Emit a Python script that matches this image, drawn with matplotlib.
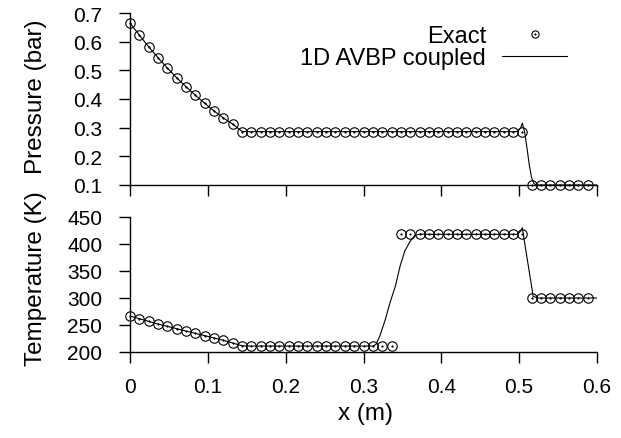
import matplotlib
matplotlib.use("Agg")
import matplotlib.pyplot as plt
from matplotlib.lines import Line2D
from matplotlib.legend_handler import HandlerTuple

plt.rcParams['font.family'] = ['Liberation Sans', 'DejaVu Sans']

# Exact solution (markers)
x_exact = [0.012 * i for i in range(50)]
p_exact = [0.665, 0.623, 0.582, 0.544, 0.508, 0.474, 0.443, 0.413, 0.385, 0.358,
           0.334, 0.312] + [0.286] * 31 + [0.1] * 7
T_exact = [266.5, 261.7, 256.7, 251.7, 247.5, 243.2, 238.8, 234.5, 230.3, 225.9,
           221.6, 216.6] + [211.0] * 17 + [418.0] * 14 + [300.0] * 7

# 1D AVBP coupled (line)
x_sim_p = [0.0, 0.012, 0.024, 0.036, 0.048, 0.060, 0.072, 0.084, 0.096, 0.108,
           0.120, 0.132, 0.144, 0.150, 0.498, 0.502, 0.504, 0.507, 0.510, 0.513,
           0.516, 0.519, 0.522, 0.6]
p_sim = [0.665, 0.623, 0.582, 0.544, 0.508, 0.474, 0.443, 0.413, 0.385, 0.358,
         0.334, 0.312, 0.287, 0.286, 0.286, 0.300, 0.316, 0.285, 0.230, 0.170,
         0.125, 0.105, 0.100, 0.100]
x_sim_T = [0.0, 0.012, 0.024, 0.036, 0.048, 0.060, 0.072, 0.084, 0.096, 0.108,
           0.120, 0.132, 0.144, 0.150, 0.312, 0.316, 0.321, 0.328, 0.334, 0.341,
           0.347, 0.353, 0.360, 0.366, 0.373, 0.380, 0.498, 0.502, 0.504, 0.518,
           0.524, 0.6]
T_sim = [266.5, 261.7, 256.7, 251.7, 247.5, 243.2, 238.8, 234.5, 230.3, 225.9,
         221.6, 216.6, 211.5, 211.0, 211.0, 214.0, 229.6, 260.0, 291.0, 322.0,
         359.0, 387.0, 405.0, 416.0, 418.5, 418.0, 418.0, 424.0, 430.0, 303.0,
         300.0, 300.0]

x_ticks = [0, 0.1, 0.2, 0.3, 0.4, 0.5, 0.6]
x_ticklabels = ['0', '0.1', '0.2', '0.3', '0.4', '0.5', '0.6']
p_ticks = [0.1, 0.2, 0.3, 0.4, 0.5, 0.6, 0.7]
T_ticks = [200, 250, 300, 350, 400, 450]

W, H = 621, 439
fig = plt.figure(figsize=(W / 100, H / 100), dpi=100)
ax1 = fig.add_axes([130 / W, 1 - 186 / H, (597 - 130) / W, (186 - 14) / H])
ax2 = fig.add_axes([130 / W, 1 - 353 / H, (597 - 130) / W, (353 - 218) / H])

ms = 6.8
for ax, ys_e, xs, ys in [(ax1, p_exact, x_sim_p, p_sim), (ax2, T_exact, x_sim_T, T_sim)]:
    ax.plot(xs, ys, color='black', lw=0.8, zorder=2)
    ax.plot(x_exact, ys_e, ls='none', marker='o', ms=ms, mfc='none',
            mec='black', mew=0.8, zorder=3, clip_on=False)
    ax.plot(x_exact, ys_e, ls='none', marker='o', ms=1.2, mfc='black',
            mec='black', mew=0.3, zorder=3, clip_on=False)
    for s in ['top', 'right']:
        ax.spines[s].set_visible(False)
    for s in ['left', 'bottom']:
        ax.spines[s].set_linewidth(1.0)
    ax.set_xlim(0, 0.6)
    ax.set_xticks(x_ticks)
    ax.tick_params(direction='out', length=8, width=1.0, labelsize=15)
    ax.tick_params(axis='y', pad=12)
    ax.tick_params(axis='x', pad=10)

ax1.set_ylim(0.1, 0.7)
ax1.set_yticks(p_ticks)
ax1.set_yticklabels([f'{v:.1f}' for v in p_ticks])
ax1.set_xticklabels([])

ax2.set_ylim(200, 450)
ax2.set_yticks(T_ticks)
ax2.set_xticklabels(x_ticklabels)

fig.text(36 / W, 1 - 97 / H, 'Pressure (bar)', rotation=90, ha='center',
         va='center', fontsize=17.5)
fig.text(36 / W, 1 - 279 / H, 'Temperature (K)', rotation=90, ha='center',
         va='center', fontsize=17.5)
fig.text(366 / W, 1 - 414 / H, 'x (m)', ha='center', va='center', fontsize=17.5)

# legend proxies
h_circ = Line2D([], [], ls='none', marker='o', ms=5.2, mfc='none', mec='black', mew=0.8)
h_dot = Line2D([], [], ls='none', marker='o', ms=1.2, mfc='black', mec='black', mew=0.3)
h_line = Line2D([], [], color='black', lw=0.8)
leg = fig.legend([(h_circ, h_dot), h_line], ['Exact', '1D AVBP coupled'],
                 loc='upper right', bbox_to_anchor=(567 / W, 1 - 26 / H),
                 frameon=False, markerfirst=False, fontsize=17, handlelength=2.75,
                 handletextpad=0.68, labelspacing=0.02, borderpad=0,
                 borderaxespad=0,
                 handler_map={tuple: HandlerTuple(ndivide=1)})
leg._legend_box.align = 'right'

fig.savefig('out.png', dpi=100)
